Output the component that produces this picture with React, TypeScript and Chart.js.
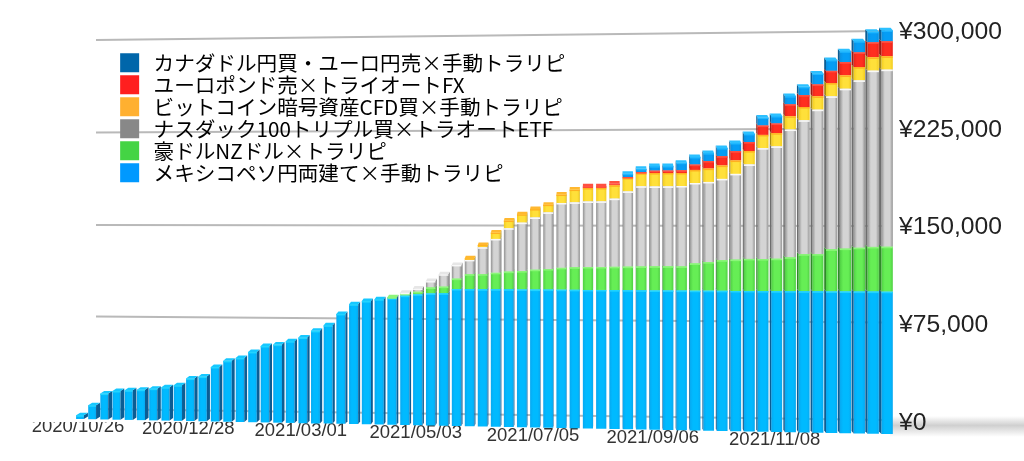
import React, { useEffect, useRef } from "react";
import { Chart, registerables } from "chart.js";

Chart.register(...registerables);

const dates = [
  "2020/10/26","2020/11/02","2020/11/09","2020/11/16","2020/11/23","2020/11/30","2020/12/07","2020/12/14","2020/12/21","2020/12/28",
  "2021/01/04","2021/01/11","2021/01/18","2021/01/25","2021/02/01","2021/02/08","2021/02/15","2021/02/22","2021/03/01","2021/03/08",
  "2021/03/15","2021/03/22","2021/03/29","2021/04/05","2021/04/12","2021/04/19","2021/04/26","2021/05/03","2021/05/10","2021/05/17",
  "2021/05/24","2021/05/31","2021/06/07","2021/06/14","2021/06/21","2021/06/28","2021/07/05","2021/07/12","2021/07/19","2021/07/26",
  "2021/08/02","2021/08/09","2021/08/16","2021/08/23","2021/08/30","2021/09/06","2021/09/13","2021/09/20","2021/09/27","2021/10/04",
  "2021/10/11","2021/10/18","2021/10/25","2021/11/01","2021/11/08","2021/11/15","2021/11/22","2021/11/29","2021/12/06","2021/12/13",
  "2021/12/20","2021/12/27","2022/01/03",
];

const mexicoPeso = [
  3700,11700,21000,23200,23900,24500,25500,26800,28500,33800,35500,43100,48000,50400,55200,59900,61100,63900,66800,72100,
  76500,85400,92900,95500,97000,98000,99900,101000,101800,102000,105400,105400,105400,105500,105500,105500,105500,105600,105600,105600,
  105600,105700,105700,105700,105700,105700,105800,105800,105800,105900,105900,105900,106000,106000,106000,106100,106100,106200,106200,106300,
  106300,106400,106400,
];
const audNzd = [
  0,0,0,0,0,0,0,0,0,0,0,0,0,0,0,0,0,0,0,0,0,0,0,0,0,
  600,1800,2000,4600,5100,7900,11300,11500,12500,13500,14000,15100,15600,16600,17100,17400,17400,17600,17800,18000,18200,18200,18200,
  20500,21500,23000,23500,24000,24000,24300,25300,27700,27700,31400,31900,32600,33200,33400,
];
const nasdaq = [
  0,0,0,0,0,0,0,0,0,0,0,0,0,0,0,0,0,0,0,0,0,0,0,0,0,0,
  400,2500,4900,9500,10500,11000,20500,25800,33000,36800,39700,43000,49200,49200,49600,49600,51500,56800,60500,60200,60200,60500,
  60500,60200,61000,64300,70800,83000,84000,95500,100000,107800,114000,119000,124500,131000,131500,
];
const bitcoin = [
  0,0,0,0,0,0,0,0,0,0,0,0,0,0,0,0,0,0,0,0,0,0,0,0,0,0,0,0,0,0,0,
  1300,1800,4900,5900,6400,6400,5900,6400,9700,10200,10200,10100,10100,9900,10100,10100,9800,
  9800,10000,10000,10000,10000,9900,9900,9900,9900,9900,9900,9900,9900,9900,9900,
];
const eurGbp = [
  0,0,0,0,0,0,0,0,0,0,0,0,0,0,0,0,0,0,0,0,0,0,0,0,0,0,0,0,0,0,0,0,0,0,0,0,0,0,0,0,
  1300,1300,1300,800,800,1800,1800,2000,4000,5700,7000,7000,6700,7000,7200,8900,8900,8900,9100,9900,10900,11100,11100,
];
const cadEur = [
  0,0,0,0,0,0,0,0,0,0,0,0,0,0,0,0,0,0,0,0,0,0,0,0,0,0,0,0,0,0,0,0,0,0,0,0,0,0,0,0,0,0,0,
  2500,2500,3500,3500,5800,5800,6000,6200,6200,6200,6000,5700,6200,6200,8200,8200,8200,8400,7900,8200,
];

const seriesNames = [
  "メキシコペソ円両建て×手動トラリピ",
  "豪ドルNZドル×トラリピ",
  "ナスダック100トリプル買×トラオートETF",
  "ビットコイン暗号資産CFD買×手動トラリピ",
  "ユーロポンド売×トライオートFX",
  "カナダドル円買・ユーロ円売×手動トラリピ",
];
const seriesValues = [mexicoPeso, audNzd, nasdaq, bitcoin, eurGbp, cadEur];
const legendColors = ["#0099ff", "#44d444", "#888888", "#ffb030", "#ff1f1f", "#0066aa"];

// edge, centre, side face, top highlight, top cap
const faces = [
  { edge: "#08a8f0", mid: "#00baff", side: "#0b5d94", hi: "#22d4ff", cap: "#16c8ff" },
  { edge: "#4fcf43", mid: "#66ee55", side: "#2f8a28", hi: "#8cf57a", cap: "#8cf57a" },
  { edge: "#929292", mid: "#d4d4d4", side: "#6e6e6e", hi: "#f8f8f8", cap: "#e6e6e6" },
  { edge: "#f2cc20", mid: "#ffe03a", side: "#a88c12", hi: "#ffb020", cap: "#ffb830" },
  { edge: "#e8241a", mid: "#ff2e20", side: "#9c1a12", hi: "#ff5040", cap: "#ff5040" },
  { edge: "#0a90e0", mid: "#059df5", side: "#0b5d94", hi: "#20b8ff", cap: "#2cc0ff" },
];

// Perspective of the picture: a flat scale position is moved onto the tilted plane.
const PLOT_TOP = 31;
const PLOT_BOTTOM = 422;
const spread = (t: number) => 80 + 751.4 * t + 55.66 * t * t;
const frontWidth = (t: number) => 7.8 + 3.7 * t;
const frontBase = (x: number) => 420 + 0.01859 * (x - 80);
const frontHeight = (x: number) => 383 + 0.026 * (x - 80);
const backBase = (x: number) => 409 + 0.01389 * (x - 95);
const backHeight = (x: number) => 369 + 0.02525 * (x - 95);
const depth = (x: number) => (600 - x) * 0.0078;
const frac = (y: number) => (PLOT_BOTTOM - y) / (PLOT_BOTTOM - PLOT_TOP);

const tOf = (chart: any, i: number) => {
  const s = chart.scales.x;
  const a = s.getPixelForValue(0);
  const b = s.getPixelForValue(dates.length - 1);
  return (s.getPixelForValue(i) - a) / (b - a);
};

const perspective = {
  id: "perspective",
  afterDatasetsUpdate(chart: any) {
    chart.data.datasets.forEach((_: any, d: number) => {
      const meta = chart.getDatasetMeta(d);
      meta.data.forEach((el: any, i: number) => {
        const t = tOf(chart, i);
        const x = spread(t);
        el.y = frontBase(x) - frac(el.y) * frontHeight(x);
        el.base = frontBase(x) - frac(el.base) * frontHeight(x);
        el.x = x;
        el.width = frontWidth(t);
      });
    });
  },
  beforeDraw(chart: any) {
    const { ctx, scales } = chart;
    // floor shadow
    const g = ctx.createLinearGradient(0, 416, 0, 437);
    g.addColorStop(0, "rgba(205,205,205,0)");
    g.addColorStop(0.45, "rgba(205,205,205,0.95)");
    g.addColorStop(1, "rgba(205,205,205,0)");
    ctx.save();
    ctx.fillStyle = g;
    ctx.fillRect(890, 416, 134, 21);
    ctx.restore();

    const ys = scales.y;
    ys._gridLineItems = ys._computeGridLineItems(chart.chartArea);
    ys._gridLineItems.forEach((it: any) => {
      const f = frac(it.y1);
      it.x1 = it.tx1 = 96;
      it.x2 = it.tx2 = 885;
      it.y1 = backBase(96) - f * backHeight(96);
      it.y2 = backBase(885) - f * backHeight(885);
    });
    ys.getLabelItems().forEach((it: any) => {
      it.options.translation = [it.options.translation[0], it.options.translation[1] + 1];
    });

    const xs = scales.x;
    xs.getLabelItems().forEach((it: any, i: number) => {
      const x = spread(tOf(chart, i));
      it.options.translation = [x - 2, frontBase(x) + 7];
      it.options.textBaseline = "middle";
      it.options.textAlign = "center";
      it.textOffset = 0;
    });

    const lg = chart.legend;
    lg.left = 118.75;
    lg.top = 51;
    lg.right = 700;
  },
  afterDatasetsDraw(chart: any) {
    const { ctx } = chart;
    const n = dates.length;
    const metas = chart.data.datasets.map((_: any, d: number) => chart.getDatasetMeta(d));
    for (let i = 0; i < n; i++) {
      let topEl: any = null;
      let topFace: any = null;
      for (let d = 0; d < metas.length; d++) {
        const el = metas[d].data[i];
        if (!seriesValues[d][i]) continue;
        const f = faces[d];
        const half = el.width / 2;
        const dx = depth(el.x);
        const sx = dx >= 0 ? el.x + half : el.x - half;
        ctx.fillStyle = f.side;
        ctx.beginPath();
        ctx.moveTo(sx, el.y);
        ctx.lineTo(sx + dx, el.y - 2.5);
        ctx.lineTo(sx + dx, el.base - 2.5);
        ctx.lineTo(sx, el.base);
        ctx.closePath();
        ctx.fill();
        ctx.fillStyle = f.hi;
        ctx.fillRect(el.x - half, el.y, el.width, 1.5);
        topEl = el;
        topFace = f;
      }
      if (topEl) {
        const half = topEl.width / 2;
        const dx = depth(topEl.x);
        ctx.fillStyle = topFace.cap;
        ctx.beginPath();
        ctx.moveTo(topEl.x - half, topEl.y);
        ctx.lineTo(topEl.x + half, topEl.y);
        ctx.lineTo(topEl.x + half + dx, topEl.y - 2.5);
        ctx.lineTo(topEl.x - half + dx, topEl.y - 2.5);
        ctx.closePath();
        ctx.fill();
      }
    }
  },
};

const barFill = (d: number) => (c: any) => {
  if (c.type !== "data") return faces[d].mid;
  const t = tOf(c.chart, c.dataIndex);
  const x = spread(t);
  const half = frontWidth(t) / 2;
  const g = c.chart.ctx.createLinearGradient(x - half, 0, x + half, 0);
  g.addColorStop(0, faces[d].edge);
  g.addColorStop(0.3, faces[d].mid);
  g.addColorStop(0.75, faces[d].mid);
  g.addColorStop(1, faces[d].edge);
  return g;
};

export default function App() {
  const ref = useRef<HTMLCanvasElement>(null);
  useEffect(() => {
    const chart = new Chart(ref.current as HTMLCanvasElement, {
      type: "bar",
      plugins: [perspective],
      data: {
        labels: dates,
        datasets: seriesNames.map((name, d) => ({
          label: name,
          data: seriesValues[d],
          backgroundColor: barFill(d),
          borderWidth: 0,
          clip: false,
          stack: "total",
        })),
      } as any,
      options: {
        responsive: false,
        animation: false,
        layout: { padding: { top: PLOT_TOP, left: 0, right: 0, bottom: 0 } },
        plugins: {
          tooltip: { enabled: false },
          title: { display: false },
          legend: {
            display: true,
            position: "chartArea",
            align: "start",
            reverse: true,
            labels: {
              boxWidth: 19,
              boxHeight: 19,
              padding: 1.4,
              color: "#222222",
              font: { family: "'Noto Sans CJK JP'", size: 20.6, lineHeight: 1 },
              generateLabels: (chart: any) =>
                chart.data.datasets.map((ds: any, d: number) => ({
                  text: "\u2009" + ds.label,
                  fillStyle: legendColors[d],
                  strokeStyle: legendColors[d],
                  lineWidth: 0,
                  hidden: false,
                  datasetIndex: d,
                })),
            },
          },
        },
        scales: {
          x: {
            stacked: true,
            grid: { display: false },
            border: { display: false },
            afterFit: (s: any) => {
              s.height = 461 - PLOT_BOTTOM;
            },
            ticks: {
              autoSkip: false,
              maxRotation: 0,
              minRotation: 0,
              color: "#333333",
              font: { family: "'Liberation Sans'", size: 18.5 },
              callback: (_v: any, i: number) => (i % 9 === 0 ? dates[i] : ""),
            },
          },
          y: {
            stacked: true,
            position: "right",
            min: 0,
            max: 300000,
            grid: { color: "#b9b9b9", lineWidth: 2, drawTicks: false },
            border: { display: false },
            afterFit: (s: any) => {
              s.width = 131;
            },
            ticks: {
              stepSize: 75000,
              padding: 6,
              color: "#222222",
              font: { family: "'Liberation Sans'", size: 24.7 },
              callback: (v: any) => "¥" + Number(v).toLocaleString("en-US"),
            },
          },
        },
      } as any,
    });
    return () => chart.destroy();
  }, []);
  return (
    <div style={{ position: "fixed", left: 0, top: 0, width: 1024, height: 461, background: "#ffffff", overflow: "hidden" }}>
      <canvas ref={ref} width={1024} height={461} style={{ display: "block" }} />
    </div>
  );
}
